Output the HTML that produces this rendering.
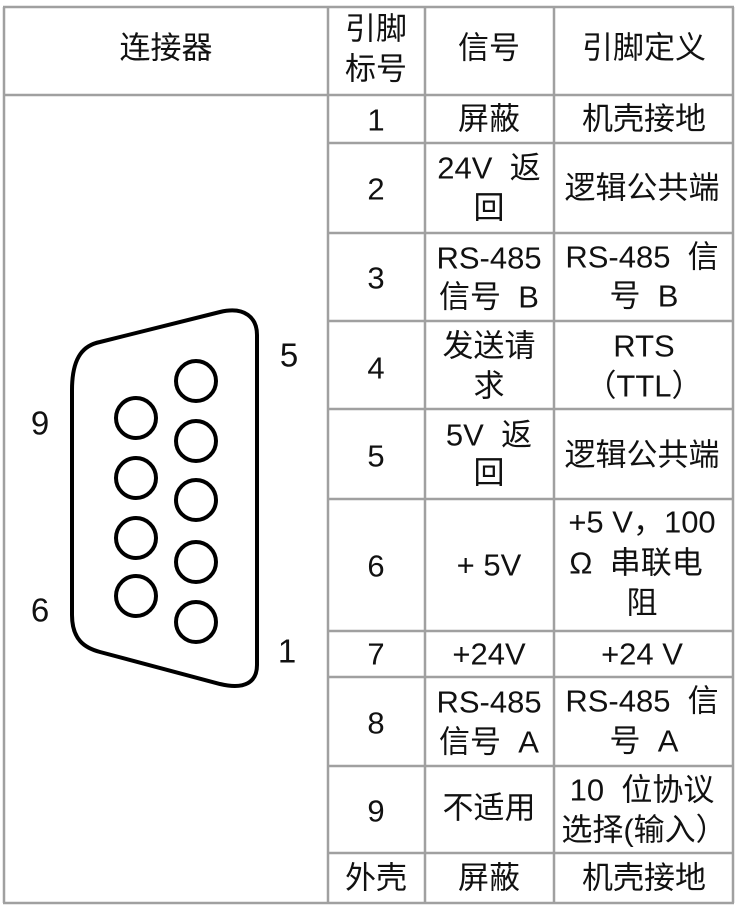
<!DOCTYPE html>
<html><head><meta charset="utf-8"><style>
html,body{margin:0;padding:0;background:#fff;width:736px;height:907px;overflow:hidden;position:relative}
.t{position:absolute;transform:translate(-50%,-50%);font-family:"Liberation Sans","Noto Sans CJK SC",sans-serif;font-size:31px;color:#111;white-space:pre;line-height:1}
.n{font-size:33px}
svg{position:absolute;left:0;top:0}
</style></head><body>
<svg width="736" height="907">
<g stroke="#a0a0a0" stroke-width="2.5" fill="none">
<line x1="3" y1="7" x2="734" y2="7"/>
<line x1="3" y1="903" x2="734" y2="903"/>
<line x1="4" y1="7" x2="4" y2="903"/>
<line x1="733" y1="7" x2="733" y2="903"/>
<line x1="328" y1="7" x2="328" y2="903"/>
<line x1="425" y1="7" x2="425" y2="903"/>
<line x1="554" y1="7" x2="554" y2="903"/>
<line x1="4" y1="95" x2="733" y2="95"/>
<line x1="328" y1="143" x2="733" y2="143"/>
<line x1="328" y1="233" x2="733" y2="233"/>
<line x1="328" y1="321" x2="733" y2="321"/>
<line x1="328" y1="409" x2="733" y2="409"/>
<line x1="328" y1="499" x2="733" y2="499"/>
<line x1="328" y1="631" x2="733" y2="631"/>
<line x1="328" y1="677" x2="733" y2="677"/>
<line x1="328" y1="766" x2="733" y2="766"/>
<line x1="328" y1="853" x2="733" y2="853"/>
</g>
<g stroke="#000" stroke-width="4" fill="none">
<path d="M72,390 C72,355 85,345 100,342 L220,312 C245,306 257,318 257,335 L257,665 C257,682 245,690 220,684 L100,652 C85,648 72,640 72,615 Z"/>
<circle cx="196" cy="381" r="20"/>
<circle cx="196" cy="441" r="20"/>
<circle cx="196" cy="500" r="20"/>
<circle cx="196" cy="562" r="20"/>
<circle cx="196" cy="622" r="20"/>
<circle cx="136" cy="418" r="20"/>
<circle cx="136" cy="478" r="20"/>
<circle cx="136" cy="538" r="20"/>
<circle cx="136" cy="596" r="20"/>
</g>
</svg>
<div class="t n" style="left:289px;top:355px">5</div>
<div class="t n" style="left:40px;top:423px">9</div>
<div class="t n" style="left:40px;top:610px">6</div>
<div class="t n" style="left:287px;top:651px">1</div>

<div class="t" style="left:166px;top:48px">连接器</div>
<div class="t" style="left:376px;top:29px">引脚</div>
<div class="t" style="left:376px;top:69px">标号</div>
<div class="t" style="left:489px;top:48px">信号</div>
<div class="t" style="left:644px;top:48px">引脚定义</div>

<div class="t" style="left:376px;top:120px">1</div>
<div class="t" style="left:489px;top:119px">屏蔽</div>
<div class="t" style="left:644px;top:119px">机壳接地</div>

<div class="t" style="left:376px;top:189px">2</div>
<div class="t" style="left:489px;top:168px">24V  返</div>
<div class="t" style="left:489px;top:208px">回</div>
<div class="t" style="left:642px;top:188px">逻辑公共端</div>

<div class="t" style="left:376px;top:278px">3</div>
<div class="t" style="left:489px;top:258px">RS-485</div>
<div class="t" style="left:489px;top:297px">信号  B</div>
<div class="t" style="left:642px;top:257px">RS-485  信</div>
<div class="t" style="left:644px;top:296px">号  B</div>

<div class="t" style="left:376px;top:368px">4</div>
<div class="t" style="left:489px;top:346px">发送请</div>
<div class="t" style="left:489px;top:386px">求</div>
<div class="t" style="left:644px;top:346px">RTS</div>
<div class="t" style="left:644px;top:386px">（TTL）</div>

<div class="t" style="left:376px;top:456px">5</div>
<div class="t" style="left:489px;top:435px">5V  返</div>
<div class="t" style="left:489px;top:473px">回</div>
<div class="t" style="left:642px;top:455px">逻辑公共端</div>

<div class="t" style="left:376px;top:566px">6</div>
<div class="t" style="left:489px;top:565px">+ 5V</div>
<div class="t" style="left:642px;top:522px">+5 V，100</div>
<div class="t" style="left:636px;top:563px">Ω  串联电</div>
<div class="t" style="left:642px;top:603px">阻</div>

<div class="t" style="left:376px;top:654px">7</div>
<div class="t" style="left:489px;top:654px">+24V</div>
<div class="t" style="left:642px;top:654px">+24 V</div>

<div class="t" style="left:376px;top:723px">8</div>
<div class="t" style="left:489px;top:702px">RS-485</div>
<div class="t" style="left:489px;top:742px">信号  A</div>
<div class="t" style="left:642px;top:701px">RS-485  信</div>
<div class="t" style="left:644px;top:741px">号  A</div>

<div class="t" style="left:376px;top:811px">9</div>
<div class="t" style="left:489px;top:808px">不适用</div>
<div class="t" style="left:642px;top:790px">10  位协议</div>
<div class="t" style="left:644px;top:830px">选择(输入）</div>

<div class="t" style="left:376px;top:878px">外壳</div>
<div class="t" style="left:489px;top:878px">屏蔽</div>
<div class="t" style="left:644px;top:878px">机壳接地</div>
</body></html>
